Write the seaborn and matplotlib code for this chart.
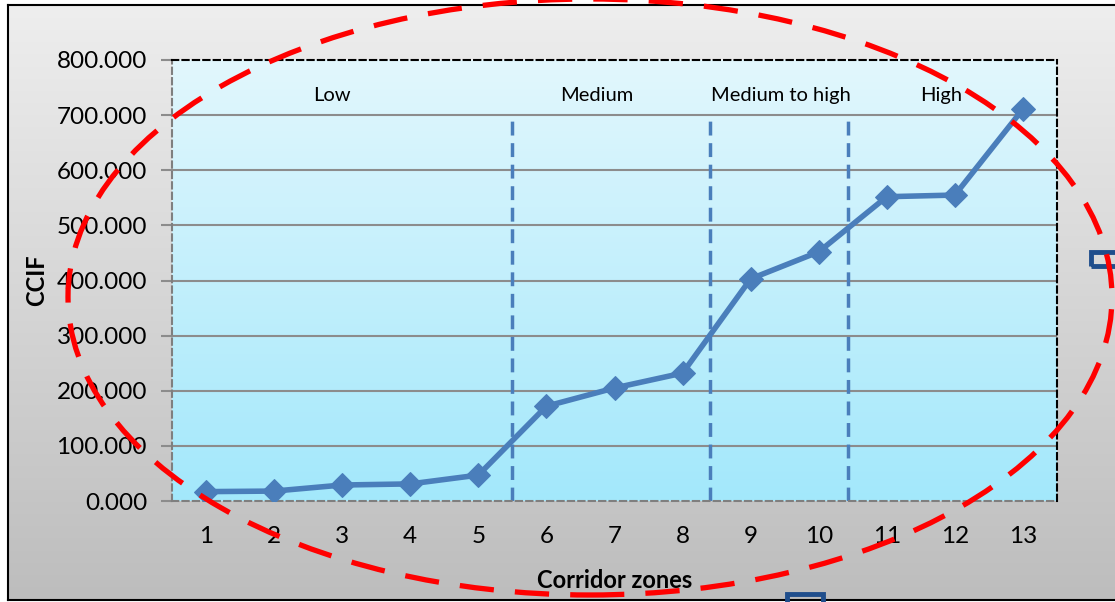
import numpy as np
import matplotlib
matplotlib.use("Agg")
import matplotlib.pyplot as plt
import seaborn as sns
import pandas as pd
from matplotlib.patches import Ellipse, Rectangle
from matplotlib.colors import LinearSegmentedColormap

zones = list(range(1, 14))
ccif = [17, 18, 29, 31, 47, 172, 205, 232, 403, 452, 552, 555, 711]
zone_labels = ["Low", "Medium", "Medium to high", "High"]
zone_label_x = [2.85, 6.74, 9.44, 11.8]
boundaries = [5.5, 8.4, 10.43]
yticks = [0, 100, 200, 300, 400, 500, 600, 700, 800]

sns.set_style("white")
plt.rcParams['font.family'] = ['Lato', 'DejaVu Sans']
plt.rcParams['text.color'] = 'black'
plt.rcParams['axes.labelcolor'] = 'black'
plt.rcParams['xtick.color'] = 'black'
plt.rcParams['ytick.color'] = 'black'

W, H = 1115, 602
fig = plt.figure(figsize=(W / 100, H / 100), dpi=100)
fig.patch.set_facecolor("white")

grad = np.linspace(0, 1, 256).reshape(-1, 1)

# figure background gradient (gray)
bg = fig.add_axes([8 / W, 2 / H, 1 - 8 / W, (600 - 5) / H], zorder=-5)
gcm = LinearSegmentedColormap.from_list("g", ["#eeeeee", "#bdbdbd"])
bg.imshow(grad, aspect="auto", cmap=gcm, extent=[0, 1, 0, 1], origin="upper")
bg.set_xticks([]); bg.set_yticks([])
for s in ["top", "left", "bottom"]:
    bg.spines[s].set_color("black"); bg.spines[s].set_linewidth(1.5)
bg.spines["right"].set_visible(False)

ax = fig.add_axes([172 / W, (602 - 501) / H, (1057 - 172) / W, (501 - 60) / H])
pcm = LinearSegmentedColormap.from_list("p", ["#e2f7fd", "#a3e8fb"])
ax.imshow(grad, aspect="auto", cmap=pcm, extent=[0.5, 13.5, 0, 800], origin="upper", zorder=0)

df = pd.DataFrame({"zone": zones, "ccif": ccif})
for yv in yticks[1:-1]:
    ax.axhline(yv, color="#8c8c8c", lw=1.5, zorder=1)
for b in boundaries:
    ax.plot([b, b], [0, 700], color="#4a7ebb", lw=2.5, ls=(0, (4, 2.2)), zorder=2)
sns.lineplot(data=df, x="zone", y="ccif", ax=ax, color="#4a7ebb", lw=4,
             marker="D", markersize=12.5, markeredgecolor="#4a7ebb", zorder=4)
for lab, xv in zip(zone_labels, zone_label_x):
    ax.text(xv, 735, lab, ha="center", va="center", fontsize=14.5, color="black", zorder=5)

ax.set_xlim(0.5, 13.5)
ax.set_ylim(0, 800)
ax.set_xticks(zones)
ax.set_xticklabels([str(z) for z in zones], fontsize=17.5, color="black")
ax.set_yticks(yticks)
ax.set_yticklabels([f"{v:.3f}" for v in yticks], fontsize=17.5, color="black")
ax.tick_params(axis="y", length=8, color="#8c8c8c", width=1.5, pad=10, left=True)
ax.tick_params(axis="x", length=0, pad=18)
ax.set_xlabel("Corridor zones", fontsize=17, fontweight="bold", labelpad=16, color="black")
ax.set_ylabel("CCIF", fontsize=17, fontweight="bold", labelpad=6, color="black")
for s in ["top", "right"]:
    ax.spines[s].set_color("black"); ax.spines[s].set_linestyle((0, (3, 2))); ax.spines[s].set_linewidth(1.5)
for s in ["left", "bottom"]:
    ax.spines[s].set_color("#7f7f7f"); ax.spines[s].set_linestyle((0, (3, 2))); ax.spines[s].set_linewidth(1.5)

# blue rectangles (decoration)
fig.patches.append(Rectangle((1091 / W, (602 - 266) / H), 40 / W, 14 / H, transform=fig.transFigure,
                             fill=False, edgecolor="#1f4e8c", lw=3.5, zorder=10))
fig.patches.append(Rectangle((787 / W, (602 - 610) / H), 36 / W, 16 / H, transform=fig.transFigure,
                             fill=False, edgecolor="#1f4e8c", lw=3.5, zorder=10))

# red dashed ellipse
fig.patches.append(Ellipse((590 / W, (602 - 297) / H), 1044 / W, 596 / H, transform=fig.transFigure,
                           fill=False, edgecolor="#ff0000", lw=3.8, ls=(0, (6.5, 4)), zorder=10))

fig.savefig("out.png", dpi=100)
